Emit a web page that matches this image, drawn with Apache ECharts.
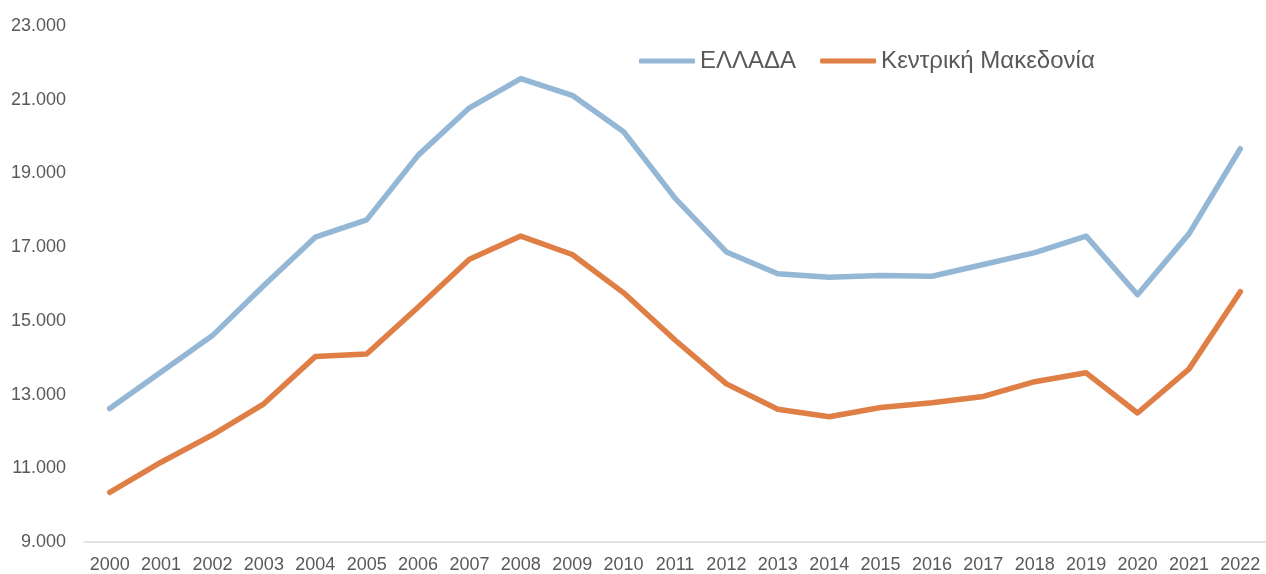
<!DOCTYPE html>
<html>
<head>
<meta charset="utf-8">
<script src="https://cdn.jsdelivr.net/npm/echarts@6/dist/echarts.min.js"></script>
<style>
  html, body { margin: 0; padding: 0; background: #fff; }
  #main { width: 1266px; height: 574px; }
</style>
</head>
<body>
<div id="main"></div>
<script>
// Data
const years = ["2000", "2001", "2002", "2003", "2004", "2005", "2006", "2007", "2008", "2009", "2010", "2011",
  "2012", "2013", "2014", "2015", "2016", "2017", "2018", "2019", "2020", "2021", "2022"];
const greece = [12620, 13610, 14600, 15960, 17270, 17740, 19490, 20780, 21570, 21120, 20130, 18330,
  16870, 16280, 16180, 16230, 16210, 16530, 16850, 17300, 15710, 17360, 19670];
const centralMacedonia = [10345, 11165, 11907, 12750, 14030, 14100, 15370, 16670, 17300, 16800, 15760, 14480,
  13290, 12600, 12400, 12650, 12780, 12950, 13350, 13590, 12500, 13690, 15790];
const seriesNames = ["ΕΛΛΑΔΑ", "Κεντρική Μακεδονία"];

var myChart = echarts.init(document.getElementById("main"));

// 23000 -> "23.000"
function fmt(v) {
  return String(v).replace(/\B(?=(\d{3})+(?!\d))/g, ".");
}

var option = {
  animation: false,
  textStyle: {
    fontFamily: "Liberation Sans, Arial, sans-serif",
    color: "#595959",
  },
  grid: {
    left: 84,
    right: -2,
    top: 26,
    bottom: 31,
  },
  legend: {
    left: 634,
    top: 44,
    icon: "roundRect",
    itemWidth: 56,
    itemHeight: 5,
    itemGap: 24,
    textStyle: {
      fontSize: 24,
      color: "#595959",
    },
    data: seriesNames,
  },
  xAxis: {
    type: "category",
    data: years,
    boundaryGap: true,
    axisTick: { show: false },
    axisLine: { lineStyle: { color: "#d9d9d9", width: 1.5 } },
    axisLabel: { fontSize: 18, color: "#595959", margin: 14, interval: 0 },
  },
  yAxis: {
    type: "value",
    min: 9000,
    max: 23000,
    interval: 2000,
    splitLine: { show: false },
    axisLine: { show: false },
    axisTick: { show: false },
    axisLabel: { fontSize: 18, color: "#595959", margin: 18, formatter: fmt },
  },
  series: [
    {
      name: seriesNames[0],
      type: "line",
      data: greece,
      symbol: "none",
      lineStyle: { color: "#94B7D6", width: 5.5, cap: "round", join: "round" },
      itemStyle: { color: "#94B7D6" },
    },
    {
      name: seriesNames[1],
      type: "line",
      data: centralMacedonia,
      symbol: "none",
      lineStyle: { color: "#DF7F45", width: 5.5, cap: "round", join: "round" },
      itemStyle: { color: "#DF7F45" },
    },
  ],
};

myChart.setOption(option);
</script>
</body>
</html>
